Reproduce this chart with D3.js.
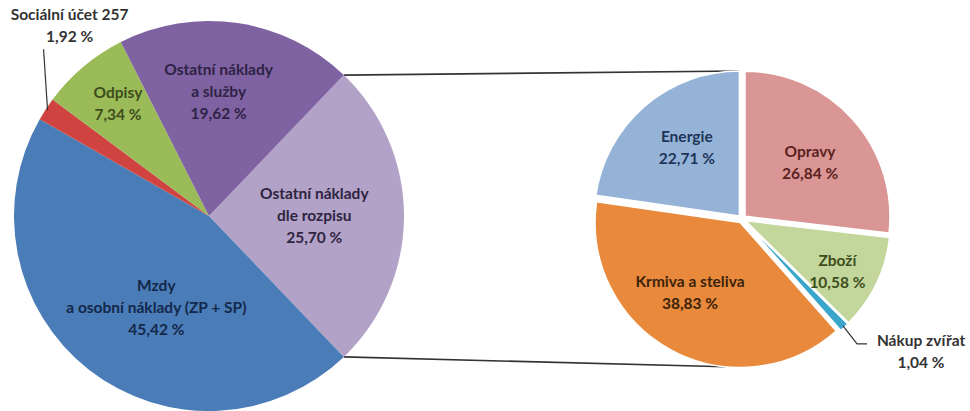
<!DOCTYPE html>
<html lang="cs">
  <head>
    <meta charset="UTF-8" />
    <script src="https://d3js.org/d3.v7.min.js"></script>
    <title>Pie of pie</title>
    <style>
      body { margin: 0; background: #fff; }
      text { font-family: Lato, "Open Sans", sans-serif; font-weight: bold; }
    </style>
  </head>
  <body>
  </body>
</html>
<script>
const width = 970;
const height = 411;

// main pie, the first slice is the one broken down on the right
let mainNames = [
  ["Ostatní náklady", "dle rozpisu"],
  ["Mzdy", "a osobní náklady (ZP + SP)"],
  ["Sociální účet 257"],
  ["Odpisy"],
  ["Ostatní náklady", "a služby"]
]
let mainValues = [25.70, 45.42, 1.92, 7.34, 19.62]

// breakdown of "Ostatní náklady dle rozpisu"
let subNames = [["Opravy"], ["Zboží"], ["Nákup zvířat"], ["Krmiva a steliva"], ["Energie"]]
let subValues = [26.84, 10.58, 1.04, 38.83, 22.71]

let mainColors = ["#b3a2c7", "#4a7cb8", "#cf4440", "#9bbb59", "#7f62a1"]
let mainText = ["#2e2440", "#14284a", "#333333", "#3d4d1c", "#2e2245"]
let subColors = ["#d99694", "#c3d69b", "#3aa6cb", "#e8893b", "#95b3d7"]
let subText = ["#5a1f1e", "#3d4d1c", "#333333", "#3b220c", "#1d3558"]

// label placement: k = fraction of radius, da = angle shift (deg)
let mainLabelPos = [{k: 0.54, da: 0}, {k: 0.54, da: -8}, null, {k: 0.74, da: 1}, {k: 0.64, da: -4}]
let subLabelPos = [{k: 0.61, da: 2}, {k: 0.75, da: 3}, null, {k: 0.62, da: 7}, {k: 0.62, da: 3}]

const deg = Math.PI / 180
const fmt = (v) => d3.format(".2f")(v).replace(".", ",") + " %"

const main = {cx: 209, cy: 216, r: 195}
const sub = {cx: 742, cy: 219, r: 145, explode: 4}
const lineH = 22

let svg = d3.select("body").append("svg")
  .attr("width", width)
  .attr("height", height)

let startMain = (90 - mainValues[0] * 3.6 / 2) * deg
let mainArcs = d3.pie().sort(null)
  .startAngle(startMain).endAngle(startMain + 2 * Math.PI)(mainValues)
let subArcs = d3.pie().sort(null)(subValues)

let mainArc = d3.arc().innerRadius(0).outerRadius(main.r)
let subArc = d3.arc().innerRadius(0).outerRadius(sub.r)

function polar(a, rr) {
  return [Math.sin(a) * rr, -Math.cos(a) * rr]
}

function drawLabel(g, lines, x, y, color) {
  let t = g.append("text")
    .attr("text-anchor", "middle")
    .attr("fill", color)
    .style("font-size", "15.5px")
  let y0 = y - (lines.length - 1) * lineH / 2
  lines.forEach((l, i) => {
    t.append("tspan").attr("x", x).attr("y", y0 + i * lineH).attr("dy", "0.35em").text(l)
  })
}

// connector lines between the pies
let a0 = mainArcs[0].startAngle
let a1 = mainArcs[0].endAngle
let pTop = polar(a0, main.r)
let pBot = polar(a1, main.r)
let eOff = polar((subArcs[4].startAngle + subArcs[4].endAngle) / 2, sub.explode)
let qTop = polar(2 * Math.PI, sub.r)
let kOff = polar((subArcs[3].startAngle + subArcs[3].endAngle) / 2, sub.explode)
let qBot = polar(186 * deg, sub.r)

svg.append("line")
  .attr("x1", main.cx + pTop[0]).attr("y1", main.cy + pTop[1])
  .attr("x2", sub.cx + qTop[0] + eOff[0]).attr("y2", sub.cy + qTop[1] + eOff[1])
  .attr("stroke", "#333").attr("stroke-width", 1.6)
svg.append("line")
  .attr("x1", main.cx + pBot[0]).attr("y1", main.cy + pBot[1])
  .attr("x2", sub.cx + qBot[0] + kOff[0]).attr("y2", sub.cy + qBot[1] + kOff[1])
  .attr("stroke", "#333").attr("stroke-width", 1.6)

// main pie
let gMain = svg.append("g").attr("transform", `translate(${main.cx},${main.cy})`)
gMain.selectAll("path")
  .data(mainArcs)
  .enter()
  .append("path")
  .attr("d", mainArc)
  .attr("fill", (d, i) => mainColors[i])

mainArcs.forEach((d, i) => {
  let pos = mainLabelPos[i]
  if (!pos) return
  let mid = (d.startAngle + d.endAngle) / 2 + pos.da * deg
  let p = polar(mid, main.r * pos.k)
  drawLabel(gMain, mainNames[i].concat([fmt(d.value)]), p[0], p[1], mainText[i])
})

// small slice "Sociální účet" labelled outside
{
  let d = mainArcs[2]
  let mid = (d.startAngle + d.endAngle) / 2
  let p = polar(mid, main.r - 2)
  let lx = p[0] + 22, ly = p[1] - 85
  gMain.append("path")
    .attr("d", `M${p[0]},${p[1]}L${lx - 26},${ly + 24}`)
    .attr("stroke", "#333").attr("stroke-width", 1.2).attr("fill", "none")
  drawLabel(gMain, mainNames[2].concat([fmt(d.value)]), lx, ly, mainText[2])
}

// sub pie, every slice pulled out a little
let gSub = svg.append("g").attr("transform", `translate(${sub.cx},${sub.cy})`)
gSub.selectAll("path")
  .data(subArcs)
  .enter()
  .append("path")
  .attr("d", subArc)
  .attr("transform", (d) => {
    let o = polar((d.startAngle + d.endAngle) / 2, sub.explode)
    return `translate(${o[0]},${o[1]})`
  })
  .attr("fill", (d, i) => subColors[i])
  .attr("stroke", "#fff")
  .attr("stroke-width", 1.5)
  .attr("stroke-linejoin", "round")

subArcs.forEach((d, i) => {
  let pos = subLabelPos[i]
  if (!pos) return
  let mid = (d.startAngle + d.endAngle) / 2 + pos.da * deg
  let p = polar(mid, sub.r * pos.k)
  drawLabel(gSub, subNames[i].concat([fmt(d.value)]), p[0], p[1], subText[i])
})

// "Nákup zvířat" with leader line
{
  let d = subArcs[2]
  let mid = (d.startAngle + d.endAngle) / 2
  let p = polar(mid, sub.r + sub.explode - 2)
  let bx = p[0] + 14, by = p[1] + 18
  gSub.append("path")
    .attr("d", `M${p[0]},${p[1]}L${bx},${by}L${bx + 10},${by}`)
    .attr("stroke", "#333").attr("stroke-width", 1.2).attr("fill", "none")
  drawLabel(gSub, subNames[2].concat([fmt(d.value)]), bx + 64, by + 8, subText[2])
}
</script>
